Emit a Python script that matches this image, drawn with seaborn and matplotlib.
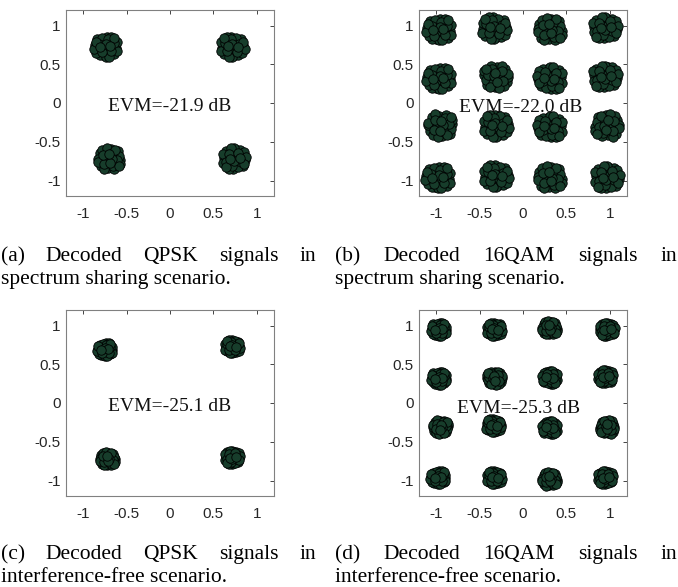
import matplotlib
matplotlib.use("Agg")
import matplotlib.pyplot as plt
from matplotlib.transforms import IdentityTransform
import seaborn as sns
import pandas as pd

sns.set_theme(style="white")
plt.rcParams['font.family'] = ['Liberation Sans', 'DejaVu Sans']

# ---- data: cluster centres (I, Q) per panel ----
qpsk_ss_i = [-0.74, 0.72, -0.70, 0.74]
qpsk_ss_q = [0.73, 0.73, -0.72, -0.72]

qam_ss_i = [-0.97, -0.33, 0.31, 0.95,
            -0.97, -0.31, 0.31, 0.95,
            -0.95, -0.31, 0.31, 0.97,
            -0.98, -0.31, 0.31, 0.97]
qam_ss_q = [0.95, 0.97, 0.95, 0.97,
            0.32, 0.34, 0.32, 0.34,
            -0.29, -0.29, -0.31, -0.29,
            -0.96, -0.94, -0.96, -0.96]

qpsk_if_i = [-0.75, 0.72, -0.72, 0.72]
qpsk_if_q = [0.69, 0.73, -0.72, -0.70]

qam_if_i = [-0.97, -0.33, 0.31, 0.97,
            -0.97, -0.33, 0.31, 0.95,
            -0.95, -0.34, 0.31, 0.97,
            -0.98, -0.33, 0.31, 0.95]
qam_if_q = [0.95, 0.95, 0.97, 0.95,
            0.32, 0.32, 0.33, 0.34,
            -0.31, -0.29, -0.32, -0.31,
            -0.96, -0.96, -0.98, -0.96]

# cluster radius (noise spread) read per panel
spreads = [0.14, 0.15, 0.09, 0.09]
evm_labels = ["EVM=-21.9 dB", "EVM=-22.0 dB", "EVM=-25.1 dB", "EVM=-25.3 dB"]
evm_pos_y = [-0.04, -0.06, -0.04, -0.07]
evm_pos_x = [0.0, -0.03, 0.0, -0.05]

# hand-typed scatter pattern of received samples around a centre (unit radius)
jitter_dx = [0.0, 0.45, -0.4, -0.6, 0.3, 0.85, -0.2, 0.1, -0.9, 0.6, -0.7, 0.7,
             -0.5, 0.2, -0.3, 0.4, -0.1, 0.9, -0.8, 0.0, 0.45, -0.3, 0.95, -1.0,
             0.25, 0.65, -0.55, 0.15, -0.15, 0.45, -0.35, 0.7, -0.85, 0.05, 0.35, -0.45]
jitter_dy = [0.0, 0.15, 0.5, -0.3, -0.6, -0.1, -0.8, 0.9, 0.1, 0.6, 0.7, -0.7,
             -0.8, 0.4, 0.1, -0.2, -0.4, 0.4, -0.6, -0.95, 0.9, 0.8, -0.45, -0.2,
             -0.95, 0.3, 0.25, 0.65, -0.15, -0.45, -0.55, 0.8, 0.45, 0.2, 0.05, -0.05]

tick_vals = [-1, -0.5, 0, 0.5, 1]
tick_labels = ["-1", "-0.5", "0", "0.5", "1"]

captions = [
    ("(a) Decoded QPSK signals in", "spectrum sharing scenario."),
    ("(b) Decoded 16QAM signals in", "spectrum sharing scenario."),
    ("(c) Decoded QPSK signals in", "interference-free scenario."),
    ("(d) Decoded 16QAM signals in", "interference-free scenario."),
]

panels = [(qpsk_ss_i, qpsk_ss_q), (qam_ss_i, qam_ss_q),
          (qpsk_if_i, qpsk_if_q), (qam_if_i, qam_if_q)]


def build_frame(ci, cq, spread):
    rows = []
    for k, (x0, y0) in enumerate(zip(ci, cq)):
        fx = 1 if k % 2 == 0 else -1
        fy = 1 if (k // 2) % 2 == 0 else -1
        for dx, dy in zip(jitter_dx, jitter_dy):
            if k % 3 == 2:
                dx, dy = dy, dx
            rows.append((x0 + fx * dx * spread, y0 + fy * dy * spread))
    return pd.DataFrame(rows, columns=["I", "Q"])


W, H = 678, 587
fig = plt.figure(figsize=(W / 100, H / 100), dpi=100)

# axes boxes in pixels: (left, top, right, bottom)
boxes = [(66, 10, 274, 196), (419, 10, 627, 196),
         (66, 310, 274, 496), (419, 310, 627, 496)]

for idx, ((ci, cq), box) in enumerate(zip(panels, boxes)):
    l, t, r, b = box
    ax = fig.add_axes([l / W, (H - b) / H, (r - l) / W, (b - t) / H])
    df = build_frame(ci, cq, spreads[idx])
    sns.scatterplot(data=df, x="I", y="Q", ax=ax, s=46, color="#173d2b",
                    edgecolor="black", linewidth=0.6, legend=False, zorder=3)
    ax.set_xlim(-1.2, 1.2)
    ax.set_ylim(-1.2, 1.2)
    ax.set_xticks(tick_vals)
    ax.set_xticklabels(tick_labels)
    ax.set_yticks(tick_vals)
    ax.set_yticklabels(tick_labels)
    ax.set_xlabel("")
    ax.set_ylabel("")
    ax.tick_params(direction="in", top=True, right=True, length=3, width=0.6,
                   color="#262626", labelcolor="#262626", labelsize=11)
    ax.tick_params(axis="x", pad=8)
    ax.tick_params(axis="y", pad=4)
    for sp in ax.spines.values():
        sp.set_color("#808080")
        sp.set_linewidth(0.8)
        sp.set_visible(True)
    ax.text(evm_pos_x[idx], evm_pos_y[idx], evm_labels[idx], ha="center",
            va="center", fontsize=14, family="Liberation Serif", color="#111111",
            zorder=4)

# captions: first line justified across column, second line left aligned
cap_cols = [(1, 316), (335, 677), (1, 316), (335, 677)]
cap_base = [(261, 284), (261, 284), (559, 582), (559, 582)]
cap_size = 15.5
renderer = fig.canvas.get_renderer()
for (line1, line2), (x0, x1), (y1, y2) in zip(captions, cap_cols, cap_base):
    words = line1.split(" ")
    texts = [fig.text(0, 0, w, fontsize=cap_size, family="Liberation Serif",
                      ha="left", va="baseline", transform=IdentityTransform(),
                      color="black") for w in words]
    widths = [tx.get_window_extent(renderer).width for tx in texts]
    gap = (x1 - x0 - sum(widths)) / (len(words) - 1)
    xx = x0
    for tx, w in zip(texts, widths):
        tx.set_position((xx, H - y1))
        xx += w + gap
    fig.text(x0, H - y2, line2, fontsize=cap_size, family="Liberation Serif",
             ha="left", va="baseline", transform=IdentityTransform(), color="black")

fig.savefig("out.png", dpi=100)
